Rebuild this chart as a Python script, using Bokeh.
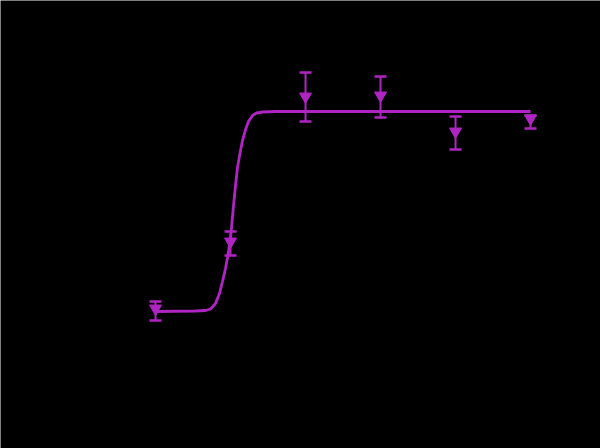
from bokeh.plotting import figure
from bokeh.models import ColumnDataSource, Whisker, TeeHead, Range1d
from bokeh.embed import file_html
from bokeh.resources import INLINE

# log10 concentration (M) and response (%)
log_conc = [-9, -8, -7, -6, -5, -4]
response = [1.5, 35.0, 107.5, 108.0, 90.0, 96.5]
err_upper = [5.0, 40.0, 119.5, 117.5, 97.5, 98.0]
err_lower = [-4.5, 28.0, 95.0, 97.0, 81.0, 91.5]

# fitted dose-response curve
curve_x = [-9.0, -8.467, -8.333, -8.267, -8.2, -8.147, -8.107, -8.067, -8.04,
           -8.0, -7.96, -7.933, -7.907, -7.867, -7.84, -7.8, -7.76, -7.707,
           -7.653, -7.573, -7.4, -4.0]
curve_y = [0.0, 0.25, 0.5, 1.25, 4.0, 9.0, 15.0, 21.5, 27.0,
           36.5, 53.0, 63.0, 72.0, 80.5, 85.5, 91.0, 95.0, 98.0,
           99.25, 99.75, 100.0, 100.0]

color = "#b024c4"

p = figure(width=600, height=448, output_backend="svg", toolbar_location=None,
           x_range=Range1d(-11.067, -3.067), y_range=Range1d(-68.5, 155.5),
           background_fill_color="black", border_fill_color="black",
           min_border=0, outline_line_color=None)
p.axis.visible = False
p.grid.visible = False

p.line(curve_x, curve_y, line_color=color, line_width=2.8)

src = ColumnDataSource(dict(x=log_conc, y=response, upper=err_upper, lower=err_lower))
w = Whisker(source=src, base="x", upper="upper", lower="lower",
            line_color=color, line_width=2,
            upper_head=TeeHead(size=12, line_color=color, line_width=2.5),
            lower_head=TeeHead(size=12, line_color=color, line_width=2.5))
p.add_layout(w)
p.scatter("x", "y", source=src, marker="inverted_triangle", size=12,
          fill_color=color, line_color=color)

html = file_html(p, INLINE)
html = html.replace("<body>", '<body style="background:#000000;">', 1)
open("out.html", "w").write(html)
